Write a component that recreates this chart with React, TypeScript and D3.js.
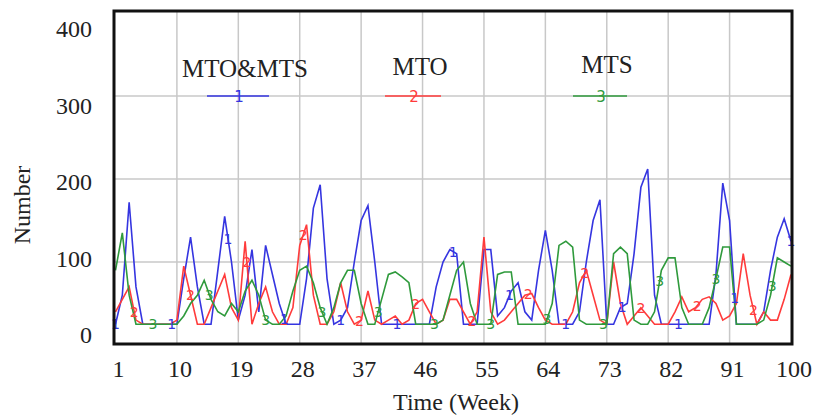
import React, { useEffect, useRef } from 'react';
import * as d3 from 'd3';

// weekly values, weeks 1..100
const weeks: number[] = d3.range(1, 101);

const mtoMts: number[] = [
  25, 60, 172, 70, 25, 25, 25, 25, 25, 25,
  80, 130, 70, 25, 25, 90, 155, 100, 30, 60,
  115, 40, 120, 85, 50, 25, 25, 25, 80, 165,
  193, 80, 25, 30, 45, 100, 150, 168, 100, 25,
  25, 25, 25, 25, 25, 25, 25, 70, 100, 115,
  110, 25, 25, 25, 115, 115, 35, 45, 65, 75,
  40, 30, 90, 138, 90, 25, 25, 25, 40, 100,
  150, 175, 25, 25, 45, 50, 110, 190, 212, 60,
  25, 25, 25, 25, 25, 25, 25, 25, 85, 195,
  150, 25, 25, 25, 25, 40, 90, 130, 152, 125,
];

const mto: number[] = [
  40, 55, 70, 30, 25, 25, 25, 25, 25, 30,
  95, 60, 25, 25, 45, 65, 85, 45, 30, 125,
  25, 50, 70, 40, 25, 25, 45, 120, 145, 60,
  25, 25, 40, 75, 40, 25, 30, 65, 30, 25,
  30, 35, 25, 30, 50, 55, 40, 25, 30, 55,
  55, 40, 25, 40, 130, 40, 25, 30, 40, 50,
  60, 62, 45, 30, 25, 25, 25, 40, 75, 90,
  60, 30, 25, 100, 50, 25, 35, 45, 35, 25,
  25, 25, 40, 58, 40, 45, 55, 58, 50, 30,
  35, 50, 110, 60, 25, 40, 30, 30, 55, 85,
];

const mts: number[] = [
  90, 135, 60, 25, 25, 25, 25, 25, 25, 25,
  35, 50, 60, 78, 55, 40, 35, 50, 40, 65,
  78, 60, 30, 25, 25, 35, 65, 90, 95, 75,
  45, 25, 45, 75, 90, 90, 50, 25, 25, 55,
  85, 88, 82, 75, 25, 25, 25, 25, 30, 60,
  90, 100, 50, 25, 25, 25, 85, 88, 88, 25,
  25, 25, 25, 25, 50, 120, 125, 118, 30, 25,
  25, 25, 25, 110, 118, 110, 30, 25, 25, 40,
  90, 105, 105, 45, 25, 25, 25, 45, 80, 118,
  118, 25, 25, 25, 25, 30, 60, 105, 100, 95,
];

const seriesNames: string[] = ['MTO&MTS', 'MTO', 'MTS'];
const seriesIds: string[] = ['1', '2', '3'];
const xTicks: number[] = [1, 10, 19, 28, 37, 46, 55, 64, 73, 82, 91, 100];
const yTicks: number[] = [0, 100, 200, 300, 400];

export default function App() {
  const ref = useRef<SVGSVGElement>(null);

  useEffect(() => {
    document.body.style.margin = '0';
    const svg = d3.select(ref.current);
    svg.selectAll('*').remove();

    const colors = ['#3535e0', '#ff3b3b', '#2f9a3c'];
    const allSeries = [mtoMts, mto, mts];
    const serif = '"Liberation Serif", "Times New Roman", serif';

    const x = d3.scaleLinear().domain([1, 100]).range([115.5, 791]);
    const y = d3.scaleLinear().domain([0, 400]).range([345, 13]);
    // the scanned labels sit a little off the grid lines
    const yLab = d3.scaleLinear().domain([0, 400]).range([343, 37]);

    // grid
    svg.append('g').selectAll('line').data(xTicks.slice(1, -1)).enter().append('line')
      .attr('x1', d => x(d)).attr('x2', d => x(d))
      .attr('y1', 12).attr('y2', 344)
      .attr('stroke', '#c8c8c8').attr('stroke-width', 1.5);
    svg.append('g').selectAll('line').data([100, 200, 300]).enter().append('line')
      .attr('x1', 115).attr('x2', 791)
      .attr('y1', d => y(d)).attr('y2', d => y(d))
      .attr('stroke', '#c8c8c8').attr('stroke-width', 1.5);

    // lines
    const line = d3.line<number>()
      .x((d, i) => x(weeks[i]))
      .y(d => y(d));

    allSeries.forEach((s, k) => {
      svg.append('path')
        .attr('d', line(s))
        .attr('fill', 'none')
        .attr('stroke', colors[k])
        .attr('stroke-width', 1.6);
    });

    // number markers along each line
    const step = 8.25;
    allSeries.forEach((s, k) => {
      const interp = d3.scaleLinear().domain(weeks).range(s);
      const pts = d3.range(1 + k * step / 3, 100.01, step);
      svg.append('g').selectAll('text').data(pts).enter().append('text')
        .attr('x', d => x(d))
        .attr('y', d => y(interp(d)) + 5)
        .attr('text-anchor', 'middle')
        .attr('font-family', '"DejaVu Sans", sans-serif')
        .attr('font-size', 14)
        .attr('fill', colors[k])
        .text(seriesIds[k]);
    });

    // frame
    svg.append('rect')
      .attr('x', 114).attr('y', 11)
      .attr('width', 678).attr('height', 333)
      .attr('fill', 'none').attr('stroke', '#111').attr('stroke-width', 3);

    // axis labels
    svg.append('g').selectAll('text').data(xTicks).enter().append('text')
      .attr('x', d => x(d) + 3)
      .attr('y', 377)
      .attr('text-anchor', 'middle')
      .attr('font-family', serif).attr('font-size', 24).attr('fill', '#222')
      .text(d => d);
    svg.append('g').selectAll('text').data(yTicks).enter().append('text')
      .attr('x', 92)
      .attr('y', d => yLab(d))
      .attr('text-anchor', 'end')
      .attr('font-family', serif).attr('font-size', 24).attr('fill', '#222')
      .text(d => d);

    svg.append('text')
      .attr('x', 456).attr('y', 410)
      .attr('text-anchor', 'middle')
      .attr('font-family', serif).attr('font-size', 24).attr('fill', '#222')
      .text('Time (Week)');
    svg.append('text')
      .attr('transform', 'translate(30,205) rotate(-90)')
      .attr('text-anchor', 'middle')
      .attr('font-family', serif).attr('font-size', 24).attr('fill', '#222')
      .text('Number');

    // legend
    const legX = [245, 420, 607];
    const legHalf = [31, 28, 27];
    const legBase = [77, 75, 73];
    seriesNames.forEach((name, k) => {
      svg.append('text')
        .attr('x', legX[k]).attr('y', legBase[k])
        .attr('text-anchor', 'middle')
        .attr('font-family', serif).attr('font-size', 25).attr('fill', '#222')
        .text(name);
      svg.append('line')
        .attr('x1', legX[k] - 7 - legHalf[k]).attr('x2', legX[k] - 7 + legHalf[k])
        .attr('y1', y(300)).attr('y2', y(300))
        .attr('stroke', colors[k]).attr('stroke-width', 1.6);
      svg.append('text')
        .attr('x', legX[k] - 6).attr('y', y(300) + 6)
        .attr('text-anchor', 'middle')
        .attr('font-family', '"DejaVu Sans", sans-serif').attr('font-size', 15)
        .attr('fill', colors[k])
        .text(seriesIds[k]);
    });
  }, []);

  return <svg ref={ref} width={813} height={416} style={{ display: 'block' }} />;
}
